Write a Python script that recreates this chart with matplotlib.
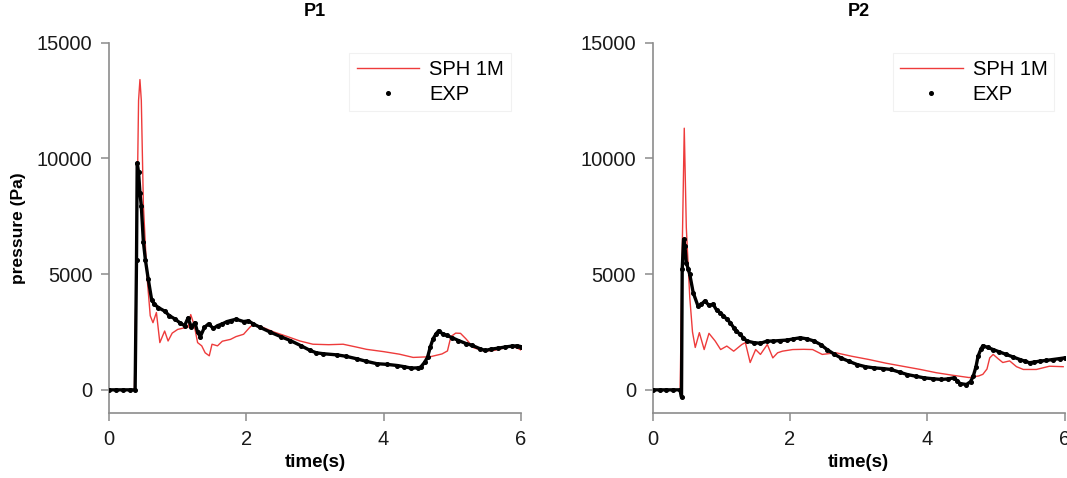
import matplotlib
matplotlib.use("Agg")
import matplotlib.pyplot as plt

# P1 panel
p1_sph_t = [0, 0.37, 0.40, 0.43, 0.45, 0.47, 0.50, 0.55, 0.60, 0.64, 0.69, 0.74, 0.81, 0.86,
            0.92, 1.0, 1.1, 1.15, 1.19, 1.24, 1.29, 1.35, 1.40, 1.46, 1.50, 1.58, 1.65, 1.77,
            1.85, 1.96, 2.05, 2.1, 2.2, 2.4, 2.6, 2.78, 2.97, 3.2, 3.41, 3.6, 3.75, 4.0, 4.23,
            4.43, 4.68, 4.85, 4.93, 4.98, 5.05, 5.12, 5.2, 5.31, 5.46, 5.6, 5.75, 5.85, 5.95, 6.0]
p1_sph_p = [0, 0, 6000, 12500, 13400, 12500, 8000, 5000, 3200, 2900, 3340, 2040, 2540, 2110,
            2450, 2610, 2680, 2700, 3250, 2800, 2040, 1900, 1600, 1470, 1970, 1900, 2100, 2180,
            2300, 2400, 2700, 2830, 2750, 2500, 2300, 2110, 1970, 1950, 1970, 1850, 1750, 1650, 1540,
            1400, 1430, 1550, 1680, 2300, 2450, 2440, 2200, 1820, 1680, 1700, 1800, 1900, 1800, 1720]

p1_exp_t = [0, 0.1, 0.2, 0.3, 0.38, 0.40, 0.41, 0.43, 0.45, 0.47, 0.50, 0.53, 0.57, 0.62, 0.66,
            0.72, 0.81, 0.88, 0.96, 1.03, 1.1, 1.15, 1.2, 1.25, 1.29, 1.33, 1.39, 1.45, 1.52, 1.58,
            1.65, 1.72, 1.77, 1.85, 1.96, 2.03, 2.1, 2.2, 2.35, 2.5, 2.64, 2.8, 2.93, 3.02, 3.12,
            3.32, 3.45, 3.61, 3.75, 3.9, 4.05, 4.2, 4.3, 4.4, 4.5, 4.54, 4.6, 4.64, 4.68, 4.72,
            4.76, 4.8, 4.86, 4.92, 5.0, 5.09, 5.2, 5.29, 5.4, 5.48, 5.57, 5.67, 5.77, 5.87, 5.94, 6.0]
p1_exp_p = [0, 0, 0, 0, 0, 5600, 9800, 9400, 8500, 7950, 6400, 5600, 4800, 3900, 3700,
            3550, 3400, 3200, 3060, 2900, 2770, 3100, 2700, 2900, 2490, 2300, 2700, 2850, 2650, 2770,
            2850, 2950, 2990, 3050, 2950, 2980, 2850, 2700, 2490, 2300, 2130, 1900, 1700, 1600, 1560,
            1510, 1450, 1340, 1230, 1130, 1100, 1050, 1000, 940, 950, 980, 1200, 1410, 1850, 2200,
            2400, 2550, 2420, 2350, 2250, 2130, 2000, 1920, 1780, 1700, 1760, 1800, 1850, 1890, 1900, 1870]

# P2 panel
p2_sph_t = [0, 0.40, 0.43, 0.46, 0.49, 0.54, 0.58, 0.62, 0.68, 0.75, 0.82, 0.91, 0.99, 1.08,
            1.18, 1.3, 1.35, 1.42, 1.5, 1.57, 1.67, 1.75, 1.82, 1.89, 2.04, 2.2, 2.33, 2.47, 2.67,
            2.9, 3.15, 3.4, 3.64, 3.9, 4.13, 4.37, 4.61, 4.75, 4.81, 4.87, 4.91, 4.96, 5.03, 5.1,
            5.2, 5.3, 5.4, 5.59, 5.78, 5.98]
p2_sph_p = [0, 0, 6000, 11300, 7000, 4000, 2500, 1830, 2470, 1740, 2440, 2110, 1740, 1890,
            1670, 1960, 2040, 1180, 1740, 1530, 1960, 1380, 1600, 1670, 1740, 1750, 1740, 1530, 1600,
            1450, 1310, 1150, 1020, 880, 740, 630, 530, 600, 670, 900, 1380, 1530, 1350, 1180,
            1250, 1000, 880, 880, 1020, 1000]

p2_exp_t = [0, 0.1, 0.2, 0.3, 0.4, 0.42, 0.43, 0.45, 0.47, 0.49, 0.52, 0.54, 0.59, 0.66, 0.71,
            0.76, 0.82, 0.88, 0.93, 0.98, 1.03, 1.08, 1.13, 1.18, 1.22, 1.27, 1.32, 1.37, 1.47,
            1.57, 1.66, 1.76, 1.86, 1.96, 2.05, 2.15, 2.25, 2.35, 2.45, 2.54, 2.64, 2.74, 2.86,
            2.98, 3.1, 3.22, 3.35, 3.47, 3.6, 3.71, 3.83, 3.95, 4.08, 4.2, 4.3, 4.39, 4.44, 4.48,
            4.57, 4.63, 4.67, 4.71, 4.74, 4.78, 4.81, 4.88, 4.96, 5.05, 5.15, 5.25, 5.35, 5.42,
            5.49, 5.56, 5.64, 5.73, 5.83, 5.93, 6.0]
p2_exp_p = [0, 0, 0, 0, 0, -320, 5200, 6500, 6210, 5490, 5200, 4990, 4200, 3620, 3700,
            3840, 3650, 3700, 3450, 3340, 3200, 3050, 2900, 2690, 2550, 2400, 2250, 2110, 2040,
            2010, 2100, 2110, 2130, 2150, 2200, 2250, 2200, 2110, 1950, 1740, 1550, 1380, 1230,
            1090, 1000, 950, 920, 880, 760, 660, 590, 520, 480, 450, 470, 520, 380, 270,
            230, 350, 590, 1000, 1450, 1750, 1910, 1830, 1740, 1640, 1530, 1420, 1310, 1240,
            1170, 1200, 1240, 1270, 1310, 1350, 1380]

panels = [("P1", p1_sph_t, p1_sph_p, p1_exp_t, p1_exp_p),
          ("P2", p2_sph_t, p2_sph_p, p2_exp_t, p2_exp_p)]

plt.rcParams["font.family"] = ["Liberation Sans", "DejaVu Sans"]

RED = "#ee3b3b"
GRAY = "#8c8c8c"

fig = plt.figure(figsize=(10.67, 4.78), dpi=100)
positions = [[0.1022, 0.136, 0.386, 0.775], [0.6117, 0.136, 0.386, 0.775]]

for pos, (name, st, sp, et, ep) in zip(positions, panels):
    ax = fig.add_axes(pos)
    ax.plot(st, sp, color=RED, lw=1.0, label="SPH 1M", zorder=2)
    # the measured trace is so dense it reads as a thick dotted band
    ax.plot(et, ep, color="black", lw=2.4, zorder=3)
    ax.plot(et, ep, ls="none", marker="o", ms=2.6, color="black", label="EXP", zorder=4)

    ax.set_xlim(0, 6)
    ax.set_ylim(-1000, 15000)
    ax.set_xticks([0, 2, 4, 6])
    ax.set_yticks([0, 5000, 10000, 15000])
    for s in ("top", "right"):
        ax.spines[s].set_visible(False)
    for s in ("left", "bottom"):
        ax.spines[s].set_color(GRAY)
        ax.spines[s].set_linewidth(1.2)
    ax.tick_params(direction="out", length=6, width=1.1, color=GRAY,
                   labelsize=14.5, labelcolor="#1a1a1a", pad=6)

    ax.set_title(name, fontsize=13, fontweight="bold", pad=19)
    ax.set_xlabel("time(s)", fontsize=13.5, fontweight="bold", labelpad=4)
    if name == "P1":
        ax.set_ylabel("pressure (Pa)", fontsize=12.5, fontweight="bold", labelpad=8)

    leg = ax.legend(loc="upper right", fontsize=14.5, handlelength=3.1, handletextpad=0.5,
                    borderaxespad=0.5, borderpad=0.35, labelspacing=0.3,
                    frameon=True, fancybox=False, markerscale=1.0)
    leg.get_frame().set_edgecolor("#eeeeee")
    leg.get_frame().set_linewidth(0.8)

fig.savefig("out.png", dpi=100)
